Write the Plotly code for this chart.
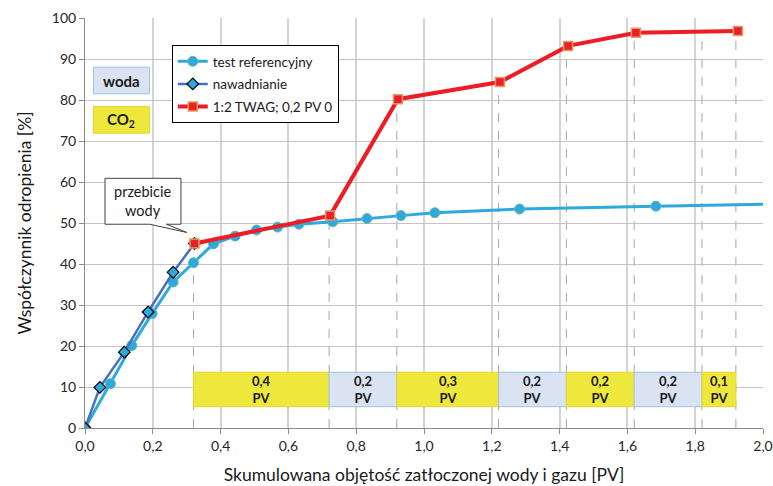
import plotly.graph_objects as go

# --- data ---
ref_x = [0, 0.075, 0.138, 0.198, 0.26, 0.32, 0.379, 0.443, 0.506, 0.568, 0.631,
         0.731, 0.832, 0.932, 1.032, 1.282, 1.684, 2.08]
ref_y = [0, 10.8, 20.1, 27.9, 35.6, 40.3, 44.9, 46.8, 48.3, 49.0, 49.7,
         50.3, 51.1, 51.8, 52.5, 53.4, 54.1, 54.7]

naw_x = [0, 0.044, 0.116, 0.186, 0.26, 0.323]
naw_y = [0, 9.9, 18.5, 28.3, 38.0, 45.0]

twag_x = [0.323, 0.723, 0.923, 1.224, 1.425, 1.625, 1.926]
twag_y = [45.0, 51.8, 80.2, 84.4, 93.2, 96.4, 96.8]

# slug boundaries and types
seg_edges = [0.32, 0.72, 0.92, 1.22, 1.42, 1.62, 1.82, 1.92]
seg_types = ["CO2", "woda", "CO2", "woda", "CO2", "woda", "CO2"]
seg_labels = ["0,4", "0,2", "0,3", "0,2", "0,2", "0,2", "0,1"]
dash_tops = [48.0, 51.8, 80.2, 84.4, 93.2, 96.4, 96.7, 96.8]

x_ticks = [0, 0.2, 0.4, 0.6, 0.8, 1.0, 1.2, 1.4, 1.6, 1.8, 2.0]
y_ticks = [0, 10, 20, 30, 40, 50, 60, 70, 80, 90, 100]

FONT = "Lato"
TXT = "#1a1a1a"
YELLOW = "#EFE83C"
YELLOW_LINE = "#E6D62E"
BLUE = "#DAE3F2"
BLUE_LINE = "#9DC3E6"

fig = go.Figure()

fig.add_trace(go.Scatter(
    x=ref_x, y=ref_y, mode="lines+markers", name="test referencyjny",
    legendgroup="a",
    line=dict(color="#2EA9DD", width=3),
    marker=dict(symbol="circle", size=10, color="#2EA9DD",
                line=dict(color="#6DB6A0", width=1)),
))
fig.add_trace(go.Scatter(
    x=naw_x, y=naw_y, mode="lines+markers", name="nawadnianie",
    legendgroup="b",
    line=dict(color="#4A6FC0", width=2.5),
    marker=dict(symbol="diamond", size=9, color="#2EA9DD",
                line=dict(color="#000000", width=1.2)),
))
fig.add_trace(go.Scatter(
    x=twag_x, y=twag_y, mode="lines+markers", name="1:2 TWAG; 0,2 PV 0",
    legendgroup="c",
    line=dict(color="#EE1C25", width=4),
    marker=dict(symbol="square", size=9, color="#E8202A",
                line=dict(color="#E49A5C", width=1.5)),
))

shapes = []
annotations = []

# dashed boundary lines
for xe, top in zip(seg_edges, dash_tops):
    shapes.append(dict(type="line", xref="x", yref="y", x0=xe, x1=xe, y0=0, y1=top,
                       line=dict(color="#A6A6A6", width=1, dash="dash"), layer="below"))

# slug boxes
for i, (t, lab) in enumerate(zip(seg_types, seg_labels)):
    x0, x1 = seg_edges[i], seg_edges[i + 1]
    fill = YELLOW if t == "CO2" else BLUE
    lc = YELLOW_LINE if t == "CO2" else BLUE_LINE
    shapes.append(dict(type="rect", xref="x", yref="y", x0=x0, x1=x1, y0=5.2, y1=13.6,
                       fillcolor=fill, line=dict(color=lc, width=1)))
    annotations.append(dict(x=(x0 + x1) / 2, y=9.4, xref="x", yref="y",
                            text=f"<b>{lab}<br>PV</b>", showarrow=False,
                            font=dict(family=FONT, size=13, color=TXT)))

# key boxes
shapes.append(dict(type="rect", xref="x", yref="y", x0=0.025, x1=0.19, y0=81.5, y1=88.0,
                   fillcolor=BLUE, line=dict(color=BLUE_LINE, width=1)))
annotations.append(dict(x=0.1075, y=84.75, xref="x", yref="y", text="<b>woda</b>",
                        showarrow=False, font=dict(family=FONT, size=15, color=TXT)))
shapes.append(dict(type="rect", xref="x", yref="y", x0=0.025, x1=0.19, y0=71.9, y1=78.4,
                   fillcolor=YELLOW, line=dict(color=YELLOW_LINE, width=1)))
annotations.append(dict(x=0.1075, y=75.15, xref="x", yref="y", text="<b>CO<sub>2</sub></b>",
                        showarrow=False, font=dict(family=FONT, size=15, color=TXT)))

# callout "przebicie wody"
bx0, bx1, by0, by1 = 0.059, 0.283, 49.7, 60.9
px0, px1, tipx, tipy = 0.191, 0.240, 0.300, 47.7
path = (f"M {bx0},{by1} L {bx1},{by1} L {bx1},{by0} L {px1},{by0} "
        f"L {tipx},{tipy} L {px0},{by0} L {bx0},{by0} Z")
shapes.append(dict(type="path", xref="x", yref="y", path=path,
                   fillcolor="white", line=dict(color="#404040", width=1)))
annotations.append(dict(x=(bx0 + bx1) / 2, y=(by0 + by1) / 2, xref="x", yref="y",
                        text="przebicie<br>wody", showarrow=False,
                        font=dict(family=FONT, size=14.5, color=TXT)))

fig.update_layout(
    width=773, height=486,
    margin=dict(l=85, r=10, t=18, b=58),
    paper_bgcolor="white", plot_bgcolor="white",
    separators=", ",
    font=dict(family=FONT, size=14, color="#262626"),
    shapes=shapes, annotations=annotations,
    showlegend=True,
    legend=dict(x=0.128, y=0.934, xanchor="left", yanchor="top",
                bgcolor="white", bordercolor="#000000", borderwidth=1,
                font=dict(family=FONT, size=13.5, color=TXT),
                tracegroupgap=2, itemwidth=30),
    xaxis=dict(range=[0, 2.0], tickvals=x_ticks, tickformat=".1f",
               automargin=False,
               showgrid=True, gridcolor="#D4D4D4", gridwidth=1.5,
               showline=True, linecolor="#8C8C8C", linewidth=1,
               ticks="outside", ticklen=5, tickcolor="#8C8C8C",
               zeroline=False, tickfont=dict(family=FONT, size=14, color="#262626"),
               title=dict(text="Skumulowana objętość zatłoczonej wody i gazu [PV]",
                          font=dict(family=FONT, size=17.5, color=TXT))),
    yaxis=dict(range=[0, 100], tickvals=y_ticks,
               automargin=False,
               showgrid=True, gridcolor="#C4C4C4", gridwidth=1,
               showline=True, linecolor="#8C8C8C", linewidth=1,
               ticks="outside", ticklen=5, tickcolor="#8C8C8C",
               zeroline=False, tickfont=dict(family=FONT, size=14, color="#262626"),
               title=dict(text="Współczynnik odropienia [%]",
                          font=dict(family=FONT, size=17.5, color=TXT))),
)

fig.write_html(
    "out.html",
    config={"displayModeBar": False},
    post_script="document.body.style.margin='0';document.body.style.overflow='hidden';",
)
